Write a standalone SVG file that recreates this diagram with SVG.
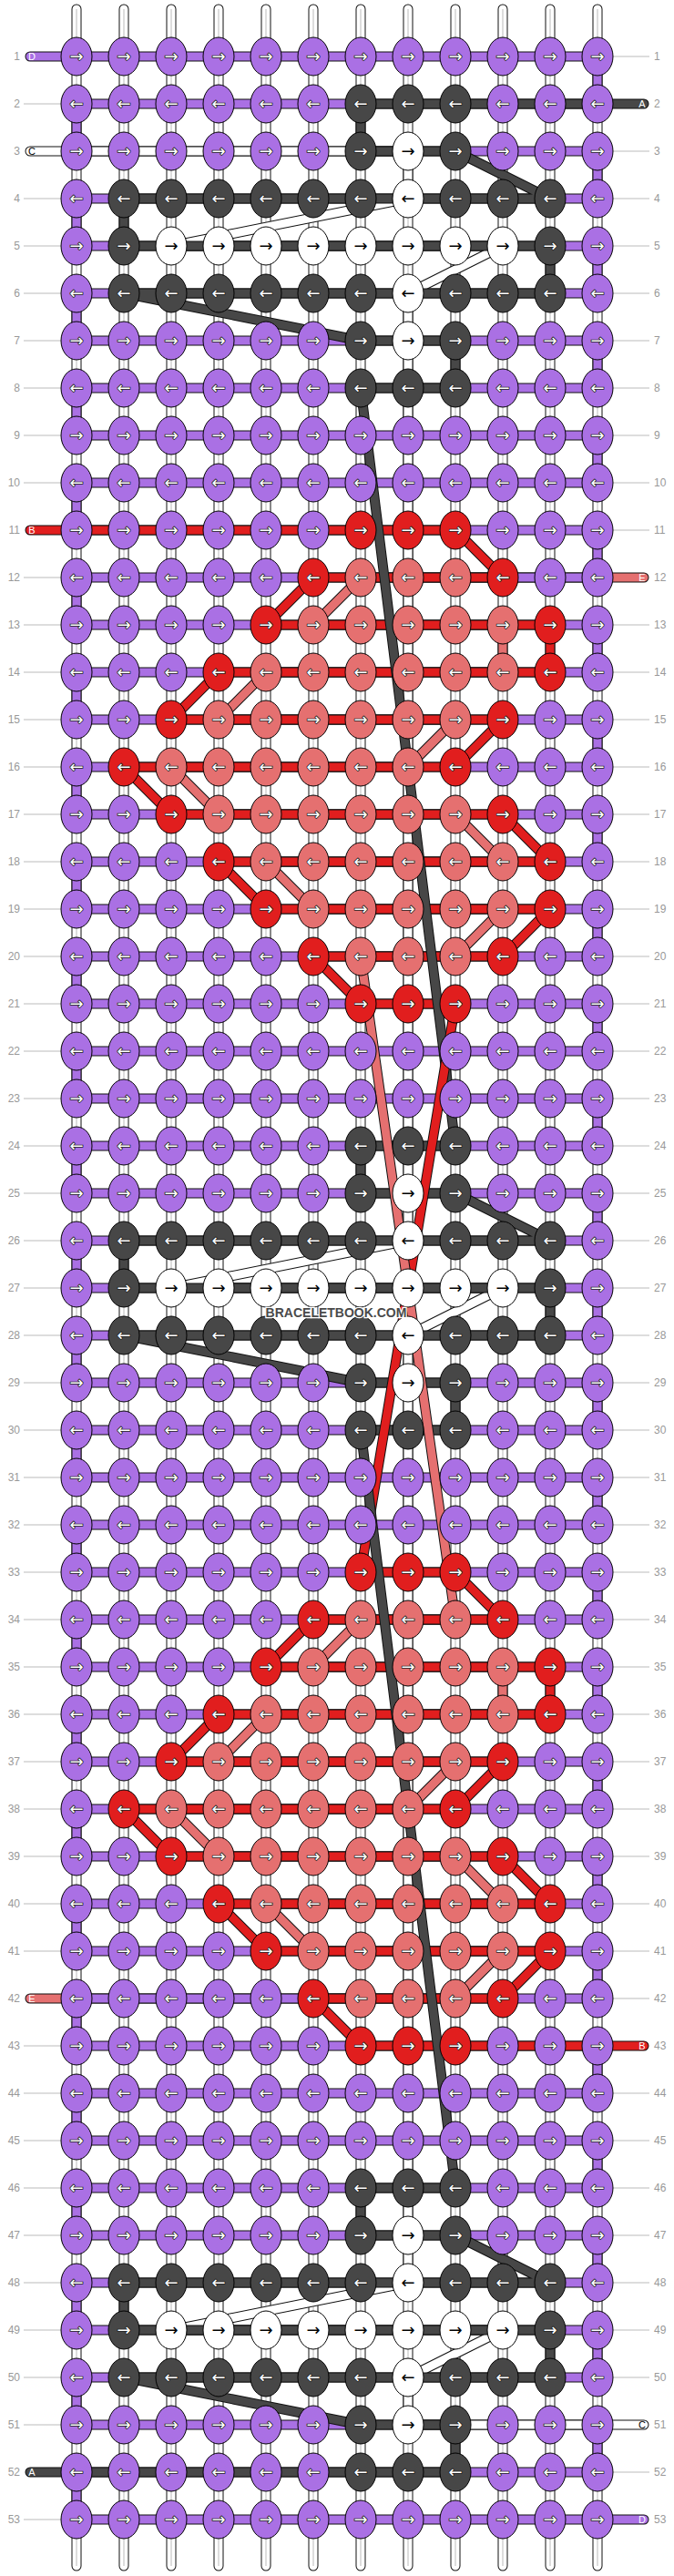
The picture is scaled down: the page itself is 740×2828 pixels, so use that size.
<svg xmlns="http://www.w3.org/2000/svg" width="740" height="2828" viewBox="0 0 740 2828">
<style>
.o{fill:none;stroke:#111;stroke-width:11;stroke-linejoin:round;stroke-linecap:round}
.tA{fill:none;stroke:#474747;stroke-width:9;stroke-linejoin:round;stroke-linecap:round}
.tB{fill:none;stroke:#e11e1e;stroke-width:9;stroke-linejoin:round;stroke-linecap:round}
.tC{fill:none;stroke:#ffffff;stroke-width:9;stroke-linejoin:round;stroke-linecap:round}
.tD{fill:none;stroke:#aa70e4;stroke-width:9;stroke-linejoin:round;stroke-linecap:round}
.tE{fill:none;stroke:#e57070;stroke-width:9;stroke-linejoin:round;stroke-linecap:round}
.bw{fill:none;stroke:#fff;stroke-width:9;stroke-linecap:round}
.bg{fill:none;stroke:#bbb;stroke-width:1}
.kp{fill:#aa70e4;stroke:#000;stroke-width:1}
.kk{fill:#474747;stroke:#000;stroke-width:1}
.kw{fill:#fff;stroke:#000;stroke-width:1}
.kr{fill:#e11e1e;stroke:#000;stroke-width:1}
.ks{fill:#e57070;stroke:#000;stroke-width:1}
.aw{font-family:"DejaVu Sans",sans-serif;font-size:18px;text-anchor:middle;fill:#fff;stroke:#222;stroke-width:1.6;paint-order:stroke}
.ab{font-family:"DejaVu Sans",sans-serif;font-size:18px;text-anchor:middle;fill:#000}
.gl{fill:none;stroke:#bbb;stroke-width:1}
.ll{font-family:"Liberation Sans",Arial,sans-serif;font-size:12px;fill:#999;text-anchor:end}
.lr{font-family:"Liberation Sans",Arial,sans-serif;font-size:12px;fill:#999;text-anchor:start}
.lt{font-family:"Liberation Sans",Arial,sans-serif;font-size:11px;text-anchor:middle;fill:#fff}
.wm{font-family:"Liberation Sans",Arial,sans-serif;font-size:14px;font-weight:bold;text-anchor:middle;fill:#4a4a4a;stroke:#fff;stroke-width:2.5;paint-order:stroke}
</style>
<defs>
<path id="base" d="M84 10V2817M136 10V2817M188 10V2817M240 10V2817M292 10V2817M344 10V2817M396 10V2817M448 10V2817M500 10V2817M552 10V2817M604 10V2817M656 10V2817"/>
<path id="pE1" d="M707 634H396L344 686H552V738H292L240 790H500L448 842H188L240 894H500L552 946H292L344 998H552L500 1050H396"/>
<path id="pE2" d="M500 1778H396L344 1830H552V1882H292L240 1934H500L448 1986H188L240 2038H500L552 2090H292L344 2142H552L500 2194H33"/>
<path id="pEL" d="M396 1050L500 1778"/>
<path id="pD" d="M33 62H656V114H84V166H656V218H84V270H656V322H84V374H656V426H84V478H656V530H84V582H656V634H84V686H656V738H84V790H656V842H84V894H656V946H84V998H656V1050H84V1102H656V1154H84V1206H656V1258H84V1310H656V1362H84V1414H656V1466H84V1518H656V1570H84V1622H656V1674H84V1726H656V1778H84V1830H656V1882H84V1934H656V1986H84V2038H656V2090H84V2142H656V2194H84V2246H656V2298H84V2350H656V2402H84V2454H656V2506H84V2558H656V2610H84V2662H656V2714H84V2766H707"/>
<path id="pC" d="M33 166H448V218L188 270H552L448 322V1362L188 1414H552L448 1466V2506L188 2558H552L448 2610V2662H707"/>
<path id="pB1" d="M33 582H500L552 634H344L292 686H604V738H240L188 790H552L500 842H136L188 894H552L604 946H240L292 998H604L552 1050H344L396 1102H500"/>
<path id="pB2" d="M500 1102L396 1726H500L552 1778H344L292 1830H604V1882H240L188 1934H552L500 1986H136L188 2038H552L604 2090H240L292 2142H604L552 2194H344L396 2246H707"/>
<path id="pA1" d="M707 114H396V166H500L604 218H136V270H604V322H136L396 374H500V426H396L500 1258H396V1310H500L604 1362H136V1414H604V1466H136L396 1518H500V1570H396"/>
<path id="pA2" d="M396 1570L500 2402H396V2454H500L604 2506H136V2558H604V2610H136L396 2662H500V2714H33"/>
<g id="pR"><ellipse class="kp" rx="17" ry="21"/><text class="aw" y="6">→</text></g>
<g id="pL"><ellipse class="kp" rx="17" ry="21"/><text class="aw" y="6">←</text></g>
<g id="kR"><ellipse class="kk" rx="17" ry="21"/><text class="aw" y="6">→</text></g>
<g id="kL"><ellipse class="kk" rx="17" ry="21"/><text class="aw" y="6">←</text></g>
<g id="wR"><ellipse class="kw" rx="17" ry="21"/><text class="ab" y="6">→</text></g>
<g id="wL"><ellipse class="kw" rx="17" ry="21"/><text class="ab" y="6">←</text></g>
<g id="rR"><ellipse class="kr" rx="17" ry="21"/><text class="aw" y="6">→</text></g>
<g id="rL"><ellipse class="kr" rx="17" ry="21"/><text class="aw" y="6">←</text></g>
<g id="sR"><ellipse class="ks" rx="17" ry="21"/><text class="aw" y="6">→</text></g>
<g id="sL"><ellipse class="ks" rx="17" ry="21"/><text class="aw" y="6">←</text></g>
<g id="PR"><use href="#pR" x="84"/><use href="#pR" x="136"/><use href="#pR" x="188"/><use href="#pR" x="240"/><use href="#pR" x="292"/><use href="#pR" x="344"/><use href="#pR" x="396"/><use href="#pR" x="448"/><use href="#pR" x="500"/><use href="#pR" x="552"/><use href="#pR" x="604"/><use href="#pR" x="656"/></g>
<g id="PL"><use href="#pL" x="84"/><use href="#pL" x="136"/><use href="#pL" x="188"/><use href="#pL" x="240"/><use href="#pL" x="292"/><use href="#pL" x="344"/><use href="#pL" x="396"/><use href="#pL" x="448"/><use href="#pL" x="500"/><use href="#pL" x="552"/><use href="#pL" x="604"/><use href="#pL" x="656"/></g>
<g id="B2"><use href="#pL" x="84"/><use href="#pL" x="136"/><use href="#pL" x="188"/><use href="#pL" x="240"/><use href="#pL" x="292"/><use href="#pL" x="344"/><use href="#kL" x="396"/><use href="#kL" x="448"/><use href="#kL" x="500"/><use href="#pL" x="552"/><use href="#pL" x="604"/><use href="#pL" x="656"/></g>
<g id="B3"><use href="#pR" x="84"/><use href="#pR" x="136"/><use href="#pR" x="188"/><use href="#pR" x="240"/><use href="#pR" x="292"/><use href="#pR" x="344"/><use href="#kR" x="396"/><use href="#wR" x="448"/><use href="#kR" x="500"/><use href="#pR" x="552"/><use href="#pR" x="604"/><use href="#pR" x="656"/></g>
<g id="B4"><use href="#pL" x="84"/><use href="#kL" x="136"/><use href="#kL" x="188"/><use href="#kL" x="240"/><use href="#kL" x="292"/><use href="#kL" x="344"/><use href="#kL" x="396"/><use href="#wL" x="448"/><use href="#kL" x="500"/><use href="#kL" x="552"/><use href="#kL" x="604"/><use href="#pL" x="656"/></g>
<g id="B5"><use href="#pR" x="84"/><use href="#kR" x="136"/><use href="#wR" x="188"/><use href="#wR" x="240"/><use href="#wR" x="292"/><use href="#wR" x="344"/><use href="#wR" x="396"/><use href="#wR" x="448"/><use href="#wR" x="500"/><use href="#wR" x="552"/><use href="#kR" x="604"/><use href="#pR" x="656"/></g>
<g id="H11"><use href="#pR" x="84"/><use href="#pR" x="136"/><use href="#pR" x="188"/><use href="#pR" x="240"/><use href="#pR" x="292"/><use href="#pR" x="344"/><use href="#rR" x="396"/><use href="#rR" x="448"/><use href="#rR" x="500"/><use href="#pR" x="552"/><use href="#pR" x="604"/><use href="#pR" x="656"/></g>
<g id="H12"><use href="#pL" x="84"/><use href="#pL" x="136"/><use href="#pL" x="188"/><use href="#pL" x="240"/><use href="#pL" x="292"/><use href="#rL" x="344"/><use href="#sL" x="396"/><use href="#sL" x="448"/><use href="#sL" x="500"/><use href="#rL" x="552"/><use href="#pL" x="604"/><use href="#pL" x="656"/></g>
<g id="H13"><use href="#pR" x="84"/><use href="#pR" x="136"/><use href="#pR" x="188"/><use href="#pR" x="240"/><use href="#rR" x="292"/><use href="#sR" x="344"/><use href="#sR" x="396"/><use href="#sR" x="448"/><use href="#sR" x="500"/><use href="#sR" x="552"/><use href="#rR" x="604"/><use href="#pR" x="656"/></g>
<g id="H14"><use href="#pL" x="84"/><use href="#pL" x="136"/><use href="#pL" x="188"/><use href="#rL" x="240"/><use href="#sL" x="292"/><use href="#sL" x="344"/><use href="#sL" x="396"/><use href="#sL" x="448"/><use href="#sL" x="500"/><use href="#sL" x="552"/><use href="#rL" x="604"/><use href="#pL" x="656"/></g>
<g id="H15"><use href="#pR" x="84"/><use href="#pR" x="136"/><use href="#rR" x="188"/><use href="#sR" x="240"/><use href="#sR" x="292"/><use href="#sR" x="344"/><use href="#sR" x="396"/><use href="#sR" x="448"/><use href="#sR" x="500"/><use href="#rR" x="552"/><use href="#pR" x="604"/><use href="#pR" x="656"/></g>
<g id="H16"><use href="#pL" x="84"/><use href="#rL" x="136"/><use href="#sL" x="188"/><use href="#sL" x="240"/><use href="#sL" x="292"/><use href="#sL" x="344"/><use href="#sL" x="396"/><use href="#sL" x="448"/><use href="#rL" x="500"/><use href="#pL" x="552"/><use href="#pL" x="604"/><use href="#pL" x="656"/></g>
</defs>
<rect width="740" height="2828" fill="#fff"/>
<g id="base-strings">
<use href="#base" class="o"/><use href="#base" class="bw"/><use href="#base" class="bg"/>
</g>
<g id="row-lines">
<path class="gl" d="M26 114H67M26 218H67M26 270H67M26 322H67M26 374H67M26 426H67M26 478H67M26 530H67M26 634H67M26 686H67M26 738H67M26 790H67M26 842H67M26 894H67M26 946H67M26 998H67M26 1050H67M26 1102H67M26 1154H67M26 1206H67M26 1258H67M26 1310H67M26 1362H67M26 1414H67M26 1466H67M26 1518H67M26 1570H67M26 1622H67M26 1674H67M26 1726H67M26 1778H67M26 1830H67M26 1882H67M26 1934H67M26 1986H67M26 2038H67M26 2090H67M26 2142H67M26 2246H67M26 2298H67M26 2350H67M26 2402H67M26 2454H67M26 2506H67M26 2558H67M26 2610H67M26 2662H67M26 2766H67"/>
<path class="gl" d="M673 62H713M673 166H713M673 218H713M673 270H713M673 322H713M673 374H713M673 426H713M673 478H713M673 530H713M673 582H713M673 686H713M673 738H713M673 790H713M673 842H713M673 894H713M673 946H713M673 998H713M673 1050H713M673 1102H713M673 1154H713M673 1206H713M673 1258H713M673 1310H713M673 1362H713M673 1414H713M673 1466H713M673 1518H713M673 1570H713M673 1622H713M673 1674H713M673 1726H713M673 1778H713M673 1830H713M673 1882H713M673 1934H713M673 1986H713M673 2038H713M673 2090H713M673 2142H713M673 2194H713M673 2298H713M673 2350H713M673 2402H713M673 2454H713M673 2506H713M673 2558H713M673 2610H713M673 2714H713"/>
</g>
<g id="connectors">
<use href="#pE1" class="o"/><use href="#pE1" class="tE"/>
<use href="#pE2" class="o"/><use href="#pE2" class="tE"/>
<use href="#pD" class="o"/><use href="#pD" class="tD"/>
<use href="#pC" class="o"/><use href="#pC" class="tC"/>
<use href="#pB1" class="o"/><use href="#pB1" class="tB"/>
<use href="#pA1" class="o"/><use href="#pA1" class="tA"/>
<use href="#pB2" class="o"/><use href="#pB2" class="tB"/>
<use href="#pEL" class="o"/><use href="#pEL" class="tE"/>
<use href="#pA2" class="o"/><use href="#pA2" class="tA"/>
</g>
<g id="knots">
<use id="row1" href="#PR" y="62"/><use id="row2" href="#B2" y="114"/><use id="row3" href="#B3" y="166"/><use id="row4" href="#B4" y="218"/><use id="row5" href="#B5" y="270"/><use id="row6" href="#B4" y="322"/><use id="row7" href="#B3" y="374"/><use id="row8" href="#B2" y="426"/><use id="row9" href="#PR" y="478"/><use id="row10" href="#PL" y="530"/>
<use id="row11" href="#H11" y="582"/><use id="row12" href="#H12" y="634"/><use id="row13" href="#H13" y="686"/><use id="row14" href="#H14" y="738"/><use id="row15" href="#H15" y="790"/><use id="row16" href="#H16" y="842"/><use id="row17" href="#H15" y="894"/><use id="row18" href="#H14" y="946"/><use id="row19" href="#H13" y="998"/><use id="row20" href="#H12" y="1050"/><use id="row21" href="#H11" y="1102"/>
<use id="row22" href="#PL" y="1154"/><use id="row23" href="#PR" y="1206"/><use id="row24" href="#B2" y="1258"/><use id="row25" href="#B3" y="1310"/><use id="row26" href="#B4" y="1362"/><use id="row27" href="#B5" y="1414"/><use id="row28" href="#B4" y="1466"/><use id="row29" href="#B3" y="1518"/><use id="row30" href="#B2" y="1570"/><use id="row31" href="#PR" y="1622"/><use id="row32" href="#PL" y="1674"/>
<use id="row33" href="#H11" y="1726"/><use id="row34" href="#H12" y="1778"/><use id="row35" href="#H13" y="1830"/><use id="row36" href="#H14" y="1882"/><use id="row37" href="#H15" y="1934"/><use id="row38" href="#H16" y="1986"/><use id="row39" href="#H15" y="2038"/><use id="row40" href="#H14" y="2090"/><use id="row41" href="#H13" y="2142"/><use id="row42" href="#H12" y="2194"/><use id="row43" href="#H11" y="2246"/>
<use id="row44" href="#PL" y="2298"/><use id="row45" href="#PR" y="2350"/><use id="row46" href="#B2" y="2402"/><use id="row47" href="#B3" y="2454"/><use id="row48" href="#B4" y="2506"/><use id="row49" href="#B5" y="2558"/><use id="row50" href="#B4" y="2610"/><use id="row51" href="#B3" y="2662"/><use id="row52" href="#B2" y="2714"/><use id="row53" href="#PR" y="2766"/>
</g>
<g id="thread-letters">
<text class="lt" x="35" y="66">D</text>
<text class="lt" x="705" y="118">A</text>
<text class="lt" x="35" y="170" fill="#000" style="fill:#000">C</text>
<text class="lt" x="35" y="586">B</text>
<text class="lt" x="705" y="638">E</text>
<text class="lt" x="35" y="2198">E</text>
<text class="lt" x="705" y="2250">B</text>
<text class="lt" x="705" y="2666" style="fill:#000">C</text>
<text class="lt" x="35" y="2718">A</text>
<text class="lt" x="705" y="2770">D</text>
</g>
<g id="labels-left" class="ll">
<text x="22" y="66">1</text><text x="22" y="118">2</text><text x="22" y="170">3</text><text x="22" y="222">4</text><text x="22" y="274">5</text><text x="22" y="326">6</text><text x="22" y="378">7</text><text x="22" y="430">8</text><text x="22" y="482">9</text><text x="22" y="534">10</text>
<text x="22" y="586">11</text><text x="22" y="638">12</text><text x="22" y="690">13</text><text x="22" y="742">14</text><text x="22" y="794">15</text><text x="22" y="846">16</text><text x="22" y="898">17</text><text x="22" y="950">18</text><text x="22" y="1002">19</text><text x="22" y="1054">20</text>
<text x="22" y="1106">21</text><text x="22" y="1158">22</text><text x="22" y="1210">23</text><text x="22" y="1262">24</text><text x="22" y="1314">25</text><text x="22" y="1366">26</text><text x="22" y="1418">27</text><text x="22" y="1470">28</text><text x="22" y="1522">29</text><text x="22" y="1574">30</text>
<text x="22" y="1626">31</text><text x="22" y="1678">32</text><text x="22" y="1730">33</text><text x="22" y="1782">34</text><text x="22" y="1834">35</text><text x="22" y="1886">36</text><text x="22" y="1938">37</text><text x="22" y="1990">38</text><text x="22" y="2042">39</text><text x="22" y="2094">40</text>
<text x="22" y="2146">41</text><text x="22" y="2198">42</text><text x="22" y="2250">43</text><text x="22" y="2302">44</text><text x="22" y="2354">45</text><text x="22" y="2406">46</text><text x="22" y="2458">47</text><text x="22" y="2510">48</text><text x="22" y="2562">49</text><text x="22" y="2614">50</text>
<text x="22" y="2666">51</text><text x="22" y="2718">52</text><text x="22" y="2770">53</text>
</g>
<g id="labels-right" class="lr">
<text x="718" y="66">1</text><text x="718" y="118">2</text><text x="718" y="170">3</text><text x="718" y="222">4</text><text x="718" y="274">5</text><text x="718" y="326">6</text><text x="718" y="378">7</text><text x="718" y="430">8</text><text x="718" y="482">9</text><text x="718" y="534">10</text>
<text x="718" y="586">11</text><text x="718" y="638">12</text><text x="718" y="690">13</text><text x="718" y="742">14</text><text x="718" y="794">15</text><text x="718" y="846">16</text><text x="718" y="898">17</text><text x="718" y="950">18</text><text x="718" y="1002">19</text><text x="718" y="1054">20</text>
<text x="718" y="1106">21</text><text x="718" y="1158">22</text><text x="718" y="1210">23</text><text x="718" y="1262">24</text><text x="718" y="1314">25</text><text x="718" y="1366">26</text><text x="718" y="1418">27</text><text x="718" y="1470">28</text><text x="718" y="1522">29</text><text x="718" y="1574">30</text>
<text x="718" y="1626">31</text><text x="718" y="1678">32</text><text x="718" y="1730">33</text><text x="718" y="1782">34</text><text x="718" y="1834">35</text><text x="718" y="1886">36</text><text x="718" y="1938">37</text><text x="718" y="1990">38</text><text x="718" y="2042">39</text><text x="718" y="2094">40</text>
<text x="718" y="2146">41</text><text x="718" y="2198">42</text><text x="718" y="2250">43</text><text x="718" y="2302">44</text><text x="718" y="2354">45</text><text x="718" y="2406">46</text><text x="718" y="2458">47</text><text x="718" y="2510">48</text><text x="718" y="2562">49</text><text x="718" y="2614">50</text>
<text x="718" y="2666">51</text><text x="718" y="2718">52</text><text x="718" y="2770">53</text>
</g>
<text id="watermark" class="wm" x="369" y="1446">BRACELETBOOK.COM</text>
</svg>
